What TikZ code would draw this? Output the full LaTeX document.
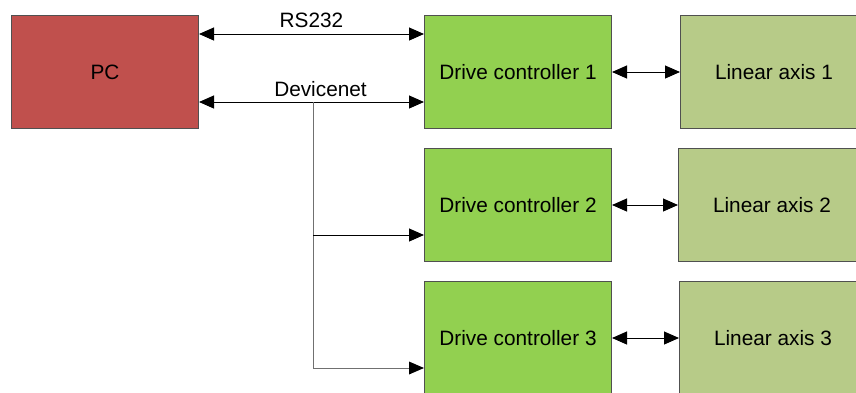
\documentclass[tikz,border=0pt]{standalone}
\usepackage{fontspec}
\setmainfont{Liberation Sans}
\usetikzlibrary{arrows.meta}
\definecolor{pcred}{HTML}{C0504D}
\definecolor{dcgreen}{HTML}{92D050}
\definecolor{lagreen}{HTML}{B7CB88}
\definecolor{bord}{HTML}{505050}
\definecolor{busgray}{HTML}{707070}
\begin{document}
\begin{tikzpicture}[x=1pt,y=-1pt,
  blk/.style={draw=bord,line width=1pt,minimum width=187pt,minimum height=113pt,inner sep=0pt,font=\fontsize{20.8}{24}\selectfont},
  conn/.style={line width=1pt,-{Triangle[length=15pt,width=13pt]}},
  biconn/.style={line width=1pt,{Triangle[length=15pt,width=13pt]}-{Triangle[length=15pt,width=13pt]}},
  lbl/.style={font=\fontsize{20.8}{24}\selectfont,inner sep=0pt}]
\useasboundingbox[fill=white] (0,0) rectangle (856,392);
\node[blk,fill=pcred,anchor=north west] (pc) at (11,15) {PC};
\node[blk,fill=dcgreen,anchor=north west] (dc1) at (424,15) {Drive controller 1};
\node[blk,fill=dcgreen,anchor=north west] (dc2) at (424,148) {Drive controller 2};
\node[blk,fill=dcgreen,anchor=north west] (dc3) at (424,281) {Drive controller 3};
\node[blk,fill=lagreen,anchor=north west] (la1) at (680,15) {Linear axis 1};
\node[blk,fill=lagreen,anchor=north west] (la2) at (678,148) {Linear axis 2};
\node[blk,fill=lagreen,anchor=north west] (la3) at (679,281) {Linear axis 3};
% PC links
\draw[biconn] (pc.east |- 0,34) -- (dc1.west |- 0,34) node[lbl,midway,above=6pt] (rs) {RS232};
\draw[biconn] (pc.east |- 0,102) -- (dc1.west |- 0,102) node[lbl,pos=0.54,above=5pt] (dn) {Devicenet};
% bus
\coordinate (btop) at (313,102);
\coordinate (b2) at (313,235);
\coordinate (b3) at (313,368);
\draw[busgray,line width=1pt] (btop) -- (b3);
\draw[conn] (b2) -- (dc2.west |- b2);
\draw[busgray,line width=1pt] (b3) -- ([xshift=-14pt]dc3.west |- b3);
\fill[black] (dc3.west |- b3) -- ++(-15,-6.5) -- ++(0,13) -- cycle;
% DC to LA
\draw[biconn] (dc1.east) -- (la1.west |- dc1.east);
\draw[biconn] (dc2.east) -- (la2.west |- dc2.east);
\draw[biconn] (dc3.east |- 0,338) -- (la3.west |- 0,338);
\end{tikzpicture}
\end{document}
